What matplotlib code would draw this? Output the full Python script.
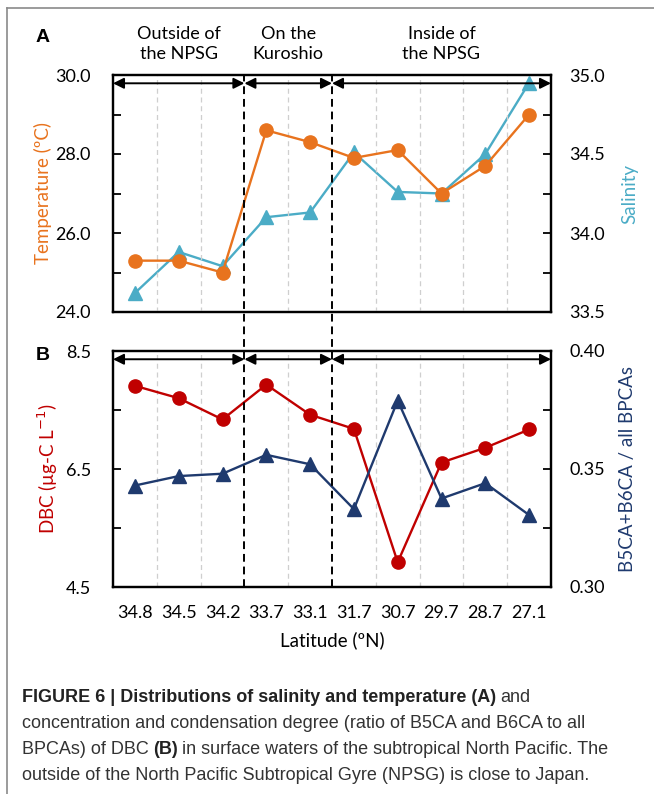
import matplotlib
matplotlib.use("Agg")
import matplotlib.pyplot as plt
from matplotlib.lines import Line2D
import numpy as np

# ---- data ----
latitudes = ["34.8", "34.5", "34.2", "33.7", "33.1", "31.7", "30.7", "29.7", "28.7", "27.1"]
temperature = [25.3, 25.3, 25.0, 28.6, 28.3, 27.9, 28.1, 27.0, 27.7, 29.0]
salinity = [33.62, 33.88, 33.79, 34.10, 34.13, 34.51, 34.26, 34.25, 34.50, 34.95]
dbc = [7.91, 7.70, 7.34, 7.93, 7.42, 7.18, 4.92, 6.61, 6.86, 7.17]
ratio = [0.343, 0.347, 0.348, 0.356, 0.352, 0.333, 0.379, 0.3375, 0.344, 0.3305]
region_labels = ["Outside of\nthe NPSG", "On the\nKuroshio", "Inside of\nthe NPSG"]
region_bounds = [(-0.5, 2.5), (2.5, 4.5), (4.5, 9.5)]

ORANGE = "#E8731E"
CYAN = "#4BACC6"
RED = "#C00000"
NAVY = "#1F3A6E"

FONT = ["Lato", "DejaVu Sans"]
plt.rcParams["font.family"] = FONT

W, H = 654, 794
fig = plt.figure(figsize=(W / 100, H / 100), dpi=100)

def fx(px):
    return px / W

def fy(py):
    return 1 - py / H

L, R = 113, 551
axA = fig.add_axes([fx(L), fy(312), fx(R - L), fy(75) - fy(312)])
axB = fig.add_axes([fx(L), fy(587), fx(R - L), fy(351) - fy(587)])

x = np.arange(len(latitudes))
TICK_FS = 13
LAB_FS = 13.5

def style(ax, ax2):
    ax.set_xlim(-0.5, len(latitudes) - 0.5)
    for b in [0.5, 1.5, 3.5, 5.5, 6.5, 7.5, 8.5]:
        ax.axvline(b, color="#cfcfcf", lw=0.9, ls=(0, (4, 3)), zorder=0)
    for a in (ax, ax2):
        for s in a.spines.values():
            s.set_linewidth(1.6)
        a.tick_params(direction="in", length=6, width=1.3, labelsize=TICK_FS)
    ax.tick_params(axis="y", pad=16)
    ax2.tick_params(axis="y", pad=13)
    ax.tick_params(axis="x", length=0, pad=13)
    ax.set_xticks(x)
    ax.set_xticklabels(latitudes)
    for bx0, bx1 in region_bounds:
        ax.annotate("", xy=(bx1, 0.965), xytext=(bx0, 0.965),
                    xycoords=("data", "axes fraction"), textcoords=("data", "axes fraction"),
                    arrowprops=dict(arrowstyle="<|-|>", color="black", lw=1.4,
                                    mutation_scale=16, shrinkA=0, shrinkB=0))

# ---- Panel A ----
axA2 = axA.twinx()
style(axA, axA2)
axA.plot(x, temperature, color=ORANGE, marker="o", ms=9.5, lw=1.7, zorder=3)
axA2.plot(x, salinity, color=CYAN, marker="^", ms=9.5, lw=1.7, zorder=3)
axA.set_ylim(24, 30)
axA.set_yticks([24, 25, 26, 27, 28, 29, 30])
axA.set_yticklabels(["24.0", "", "26.0", "", "28.0", "", "30.0"])
axA2.set_ylim(33.5, 35.0)
axA2.set_yticks([33.5, 33.75, 34.0, 34.25, 34.5, 34.75, 35.0])
axA2.set_yticklabels(["33.5", "", "34.0", "", "34.5", "", "35.0"])
axA.tick_params(axis="x", labelbottom=False)
axA.set_ylabel("Temperature (ºC)", color=ORANGE, fontsize=LAB_FS, labelpad=2)
axA2.set_ylabel("Salinity", color=CYAN, fontsize=LAB_FS, labelpad=12)
axA.set_zorder(axA2.get_zorder() + 1)
axA.patch.set_visible(False)

# ---- Panel B ----
axB2 = axB.twinx()
style(axB, axB2)
axB.plot(x, dbc, color=RED, marker="o", ms=9.5, lw=1.7, zorder=3)
axB2.plot(x, ratio, color=NAVY, marker="^", ms=9.5, lw=1.7, zorder=3)
axB.set_ylim(4.5, 8.5)
axB.set_yticks([4.5, 5.5, 6.5, 7.5, 8.5])
axB.set_yticklabels(["4.5", "", "6.5", "", "8.5"])
axB2.set_ylim(0.30, 0.40)
axB2.set_yticks([0.30, 0.325, 0.35, 0.375, 0.40])
axB2.set_yticklabels(["0.30", "", "0.35", "", "0.40"])
axB.set_ylabel("DBC (µg-C L$^{-1}$)", color=RED, fontsize=LAB_FS, labelpad=4)
axB2.set_ylabel("B5CA+B6CA / all BPCAs", color=NAVY, fontsize=LAB_FS, labelpad=10)
axB.set_xlabel("Latitude (ºN)", fontsize=LAB_FS, labelpad=7)

# dashed black separators spanning both panels
for b in [2.5, 4.5]:
    xf = fx(L) + (b + 0.5) / len(latitudes) * (fx(R) - fx(L))
    fig.add_artist(Line2D([xf, xf], [fy(587), fy(74)], color="black", lw=1.4,
                          ls=(0, (4, 2.5)), transform=fig.transFigure, zorder=5))

# region labels
for (b0, b1), lab in zip(region_bounds, region_labels):
    xc = fx(L) + ((b0 + b1) / 2 + 0.5) / len(latitudes) * (fx(R) - fx(L))
    fig.text(xc, fy(44), lab, ha="center", va="center", fontsize=13, linespacing=1.3)

fig.text(fx(36), fy(38), "A", fontsize=14, fontweight="bold", ha="left", va="center",
         family=["Liberation Sans", "DejaVu Sans"])
fig.text(fx(36), fy(355), "B", fontsize=14, fontweight="bold", ha="left", va="center",
         family=["Liberation Sans", "DejaVu Sans"])

# frame
fig.add_artist(Line2D([fx(7), 1], [fy(8), fy(8)], color="#8a8a8a", lw=1.2, transform=fig.transFigure))
fig.add_artist(Line2D([fx(7), fx(7)], [fy(8), 0], color="#8a8a8a", lw=1.2, transform=fig.transFigure))

# caption
cap_font = ["Liberation Sans Narrow", "Liberation Sans", "DejaVu Sans"]
cap_color = "#333333"
cx = fx(22)
t = fig.text(cx, fy(698), "FIGURE 6 | Distributions of salinity and temperature (A)",
             fontsize=13, fontweight="bold", family=cap_font, color="#222222", va="center")
fig.canvas.draw()
bb = t.get_window_extent()
fig.text(bb.x1 / W + fx(4), fy(698), "and", fontsize=13, family=cap_font, color=cap_color, va="center")
fig.text(cx, fy(724), "concentration and condensation degree (ratio of B5CA and B6CA to all",
         fontsize=13, family=cap_font, color=cap_color, va="center")
t1 = fig.text(cx, fy(750), "BPCAs) of DBC", fontsize=13, family=cap_font, color=cap_color, va="center")
fig.canvas.draw()
bb1 = t1.get_window_extent()
t2 = fig.text(bb1.x1 / W + fx(4), fy(750), "(B)", fontsize=13, fontweight="bold", family=cap_font,
              color="#222222", va="center")
fig.canvas.draw()
bb2 = t2.get_window_extent()
fig.text(bb2.x1 / W + fx(4), fy(750), "in surface waters of the subtropical North Pacific. The",
         fontsize=13, family=cap_font, color=cap_color, va="center")
fig.text(cx, fy(776), "outside of the North Pacific Subtropical Gyre (NPSG) is close to Japan.",
         fontsize=13, family=cap_font, color=cap_color, va="center")

fig.savefig("out.png", dpi=100)
